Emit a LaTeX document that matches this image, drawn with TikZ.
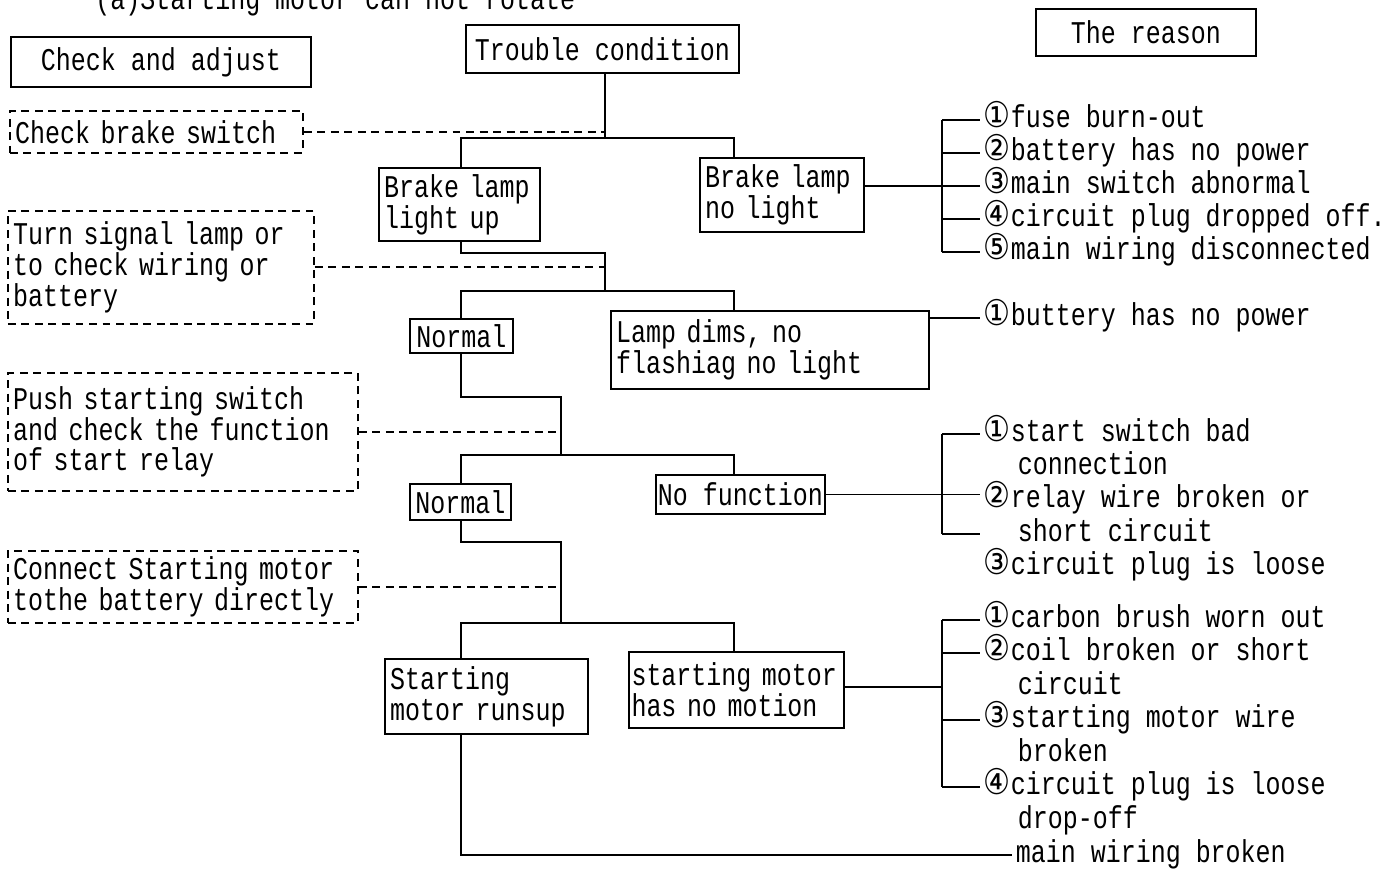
\documentclass[tikz,border=0pt]{standalone}
\usepackage{fontspec}
\usetikzlibrary{positioning}
\newfontfamily\charfont[FakeStretch=0.79]{Liberation Mono}
\newfontfamily\circfont[FakeStretch=0.85,Scale=1.12]{DejaVu Sans}
\newcommand\chartfont{\charfont\fontsize{18pt}{17.6pt}\selectfont\hyphenpenalty=10000\exhyphenpenalty=10000}
\newcommand\cnum[1]{{\circfont #1}}

\begin{document}
\begin{tikzpicture}[x=0.02cm,y=-0.02cm]
    \tikzset{chartbox/.style={draw,line width=1pt,anchor=north west,align=left,
      inner xsep=3pt,inner ysep=3pt,font=\chartfont},
      checkbox/.style={chartbox,dash pattern=on 4.5pt off 3.2pt},
      reason/.style={anchor=west,inner xsep=2pt,inner ysep=0pt,text height=12pt,text depth=3.5pt,font=\chartfont},
      link/.style={line width=1pt},
      hint/.style={line width=1pt,dash pattern=on 4.5pt off 3.2pt}}
    \useasboundingbox (0,0) rectangle (1394,880);
    % headings
    \node[anchor=base west,inner sep=0pt,font=\chartfont] (title) at (95,9) {(a)Starting motor can not rotate};
    \node[chartbox,align=center,minimum width=6cm,minimum height=1cm] (chk) at (10,36) {Check and adjust};
    \node[chartbox,align=center,minimum width=5.46cm,minimum height=0.96cm] (tc) at (465,24) {Trouble condition};
    \node[chartbox,align=center,minimum width=4.4cm,minimum height=0.94cm] (rsn) at (1035,8) {The reason};
    % check and adjust steps
    \node[checkbox,text width=5.65cm,minimum height=0.84cm] (cbs) at (9,110) {Check brake switch};
    \node[checkbox,text width=5.91cm,minimum height=2.26cm] (tsl) at (7,210) {Turn signal lamp or\\to check wiring or\\battery};
    \node[checkbox,text width=6.79cm,minimum height=2.36cm] (psw) at (7,372) {Push starting switch\\and check the function\\of start relay};
    \node[checkbox,text width=6.79cm,minimum height=1.44cm] (csm) at (7,550) {Connect Starting motor\\tothe battery directly};
    % trouble conditions
    \node[chartbox,text width=3.01cm,minimum height=1.46cm] (lu) at (378,167) {Brake lamp\\light up};
    \node[chartbox,text width=3.07cm,minimum height=1.48cm] (nl) at (699,157) {Brake lamp\\no light};
    \node[chartbox,align=center,minimum width=2.06cm,minimum height=0.64cm] (n1) at (409,318) {Normal};
    \node[chartbox,text width=6.15cm,minimum height=1.56cm] (ld) at (610,310) {Lamp dims, no\\flashiag no light};
    \node[chartbox,align=center,minimum width=2.02cm,minimum height=0.72cm] (n2) at (409,483) {Normal};
    \node[chartbox,align=center,inner xsep=1pt,minimum width=3.38cm,minimum height=0.78cm] (nf) at (655,474) {No function};
    \node[chartbox,text width=3.85cm,minimum height=1.5cm] (ru) at (384,658) {Starting\\motor runsup};
    \node[chartbox,text width=4.2cm,inner xsep=1.5pt,minimum height=1.52cm] (nm) at (628,651) {starting motor\\has no motion};
    % reasons
    \node[reason] (r11) at (980,120) {\cnum{①}fuse burn-out};
    \node[reason] (r12) at (980,153) {\cnum{②}battery has no power};
    \node[reason] (r13) at (980,186) {\cnum{③}main switch abnormal};
    \node[reason] (r14) at (980,219) {\cnum{④}circuit plug dropped off.};
    \node[reason] (r15) at (980,252) {\cnum{⑤}main wiring disconnected};
    \node[reason] (r21) at (980,318) {\cnum{①}buttery has no power};
    \node[reason] (r31) at (980,434) {\cnum{①}start switch bad};
    \node[reason] (r31b) at (1014,467) {connection};
    \node[reason] (r32) at (980,500) {\cnum{②}relay wire broken or};
    \node[reason] (r32b) at (1014,534) {short circuit};
    \node[reason] (r33) at (980,567) {\cnum{③}circuit plug is loose};
    \node[reason] (r41) at (980,620) {\cnum{①}carbon brush worn out};
    \node[reason] (r42) at (980,653) {\cnum{②}coil broken or short};
    \node[reason] (r42b) at (1014,687) {circuit};
    \node[reason] (r43) at (980,720) {\cnum{③}starting motor wire};
    \node[reason] (r43b) at (1014,754) {broken};
    \node[reason] (r44) at (980,787) {\cnum{④}circuit plug is loose};
    \node[reason] (r44b) at (1014,821) {drop-off};
    \node[reason] (mwb) at (1012,855) {main wiring broken};
    % branch points
    \coordinate (colL) at (461,0);
    \coordinate (colR) at (734,0);
    \coordinate (br1) at (605,138);
    \coordinate (k1) at (605,253);
    \coordinate (br2) at (605,291);
    \coordinate (k2) at (561,397);
    \coordinate (br3) at (561,455);
    \coordinate (k3) at (561,542);
    \coordinate (br4) at (561,623);
    \coordinate (bx) at (942,0);
    % tree
    \draw[link] (tc.south -| br1) -- (br1);
    \draw[link] (lu.north -| colL) |- (br1) -| (nl.north -| colR);
    \draw[link] (lu.south -| colL) |- (k1) -- (br2);
    \draw[link] (n1.north -| colL) |- (br2) -| (ld.north -| colR);
    \draw[link] (n1.south -| colL) |- (k2) -- (br3);
    \draw[link] (n2.north -| colL) |- (br3) -| (nf.north -| colR);
    \draw[link] (n2.south -| colL) |- (k3) -- (br4);
    \draw[link] (ru.north -| colL) |- (br4) -| (nm.north -| colR);
    \draw[link] (ru.south -| colL) |- (mwb.west);
    % checks to tree
    \draw[hint] (cbs.east) -- (cbs.east -| br1);
    \draw[hint] (tsl.east) -- (tsl.east -| k1);
    \draw[hint] (psw.east) -- (psw.east -| k2);
    \draw[hint] (csm.east) -- (csm.east -| k3);
    % brackets to reasons
    \draw[link] (r11.west -| bx) -- (r15.west -| bx);
    \foreach \r in {r11,r12,r13,r14,r15} \draw[link] (\r.west -| bx) -- (\r.west);
    \draw[link] (nl.east |- r13.west) -- (r13.west -| bx);
    \draw[link] (ld.east |- r21.west) -- (r21.west);
    \draw[link] (r31.west -| bx) -- (r32b.west -| bx);
    \foreach \r in {r31,r32b} \draw[link] (\r.west -| bx) -- (\r.west -| r31.west);
    \draw[link] (nf.east) -- (nf.east -| r31.west);
    \draw[link] (r41.west -| bx) -- (r44.west -| bx);
    \foreach \r in {r41,r42,r43,r44} \draw[link] (\r.west -| bx) -- (\r.west);
    \draw[link] (nm.east |- r42b.west) -- (r42b.west -| bx);
\end{tikzpicture}
\end{document}
